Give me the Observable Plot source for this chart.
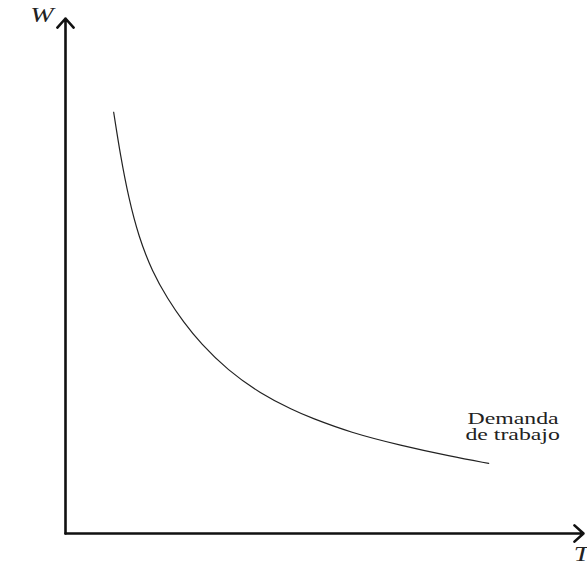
<!DOCTYPE html>
<html>
<head>
<meta charset="utf-8">
<script src="https://cdn.jsdelivr.net/npm/d3@7"></script>
<script src="https://cdn.jsdelivr.net/npm/@observablehq/plot@0.6"></script>
<style>
  html, body { margin: 0; padding: 0; background: #fff; }
</style>
</head>
<body>
<div id="chart"></div>
<script>
// Labour demand curve (T = trabajo, W = salario)
const demandT = [0.93, 1.06, 1.22, 1.41, 1.68, 1.97, 2.28, 2.61, 3.13, 3.76, 4.40, 4.73, 5.50, 6.47, 7.43, 8.17];
const demandW = [8.18, 7.34, 6.51, 5.77, 5.07, 4.56, 4.10, 3.69, 3.17, 2.72, 2.39, 2.25, 1.96, 1.71, 1.50, 1.36];

const axisLabels = ["W", "T"];
const axisLabelX = [-0.68, 9.81];
const axisLabelY = [10.05, -0.40];

const curveLabels = ["Demanda", "de trabajo"];
const curveLabelX = [7.76, 7.72];
const curveLabelY = [2.24, 1.93];

const axesArrows = [
  {x1: 0, y1: 0, x2: 0, y2: 10},
  {x1: 0, y1: 0, x2: 10, y2: 0}
];

const curve = demandT.map((t, i) => ({t, w: demandW[i]}));
const axisText = axisLabels.map((s, i) => ({s, x: axisLabelX[i], y: axisLabelY[i]}));
const curveText = curveLabels.map((s, i) => ({s, x: curveLabelX[i], y: curveLabelY[i]}));

const plot = Plot.plot({
  width: 587,
  height: 564,
  marginLeft: 65,
  marginRight: 4,
  marginTop: 18,
  marginBottom: 31,
  x: {domain: [0, 10], axis: null},
  y: {domain: [0, 10], axis: null},
  style: {fontFamily: "'Liberation Serif', serif", background: "#fff"},
  marks: [
    Plot.arrow(axesArrows, {
      x1: "x1", y1: "y1", x2: "x2", y2: "y2",
      stroke: "#111", strokeWidth: 2.6, headLength: 7, headAngle: 84
    }),
    Plot.line(curve, {x: "t", y: "w", curve: "basis", stroke: "#222", strokeWidth: 1.2}),
    Plot.text(axisText, {
      x: "x", y: "y", text: "s", textAnchor: "start", fontSize: 20,
      fontStyle: "italic", fill: "#222", className: "stretch"
    }),
    Plot.text(curveText, {
      x: "x", y: "y", text: "s", textAnchor: "start", fontSize: 17,
      fill: "#222", className: "stretch"
    })
  ]
});

d3.select(plot).selectAll(".stretch text").each(function() {
  const t = this.getAttribute("transform") || "";
  this.setAttribute("transform", t + " scale(1.4,1)");
});

document.getElementById("chart").appendChild(plot);
</script>
</body>
</html>
